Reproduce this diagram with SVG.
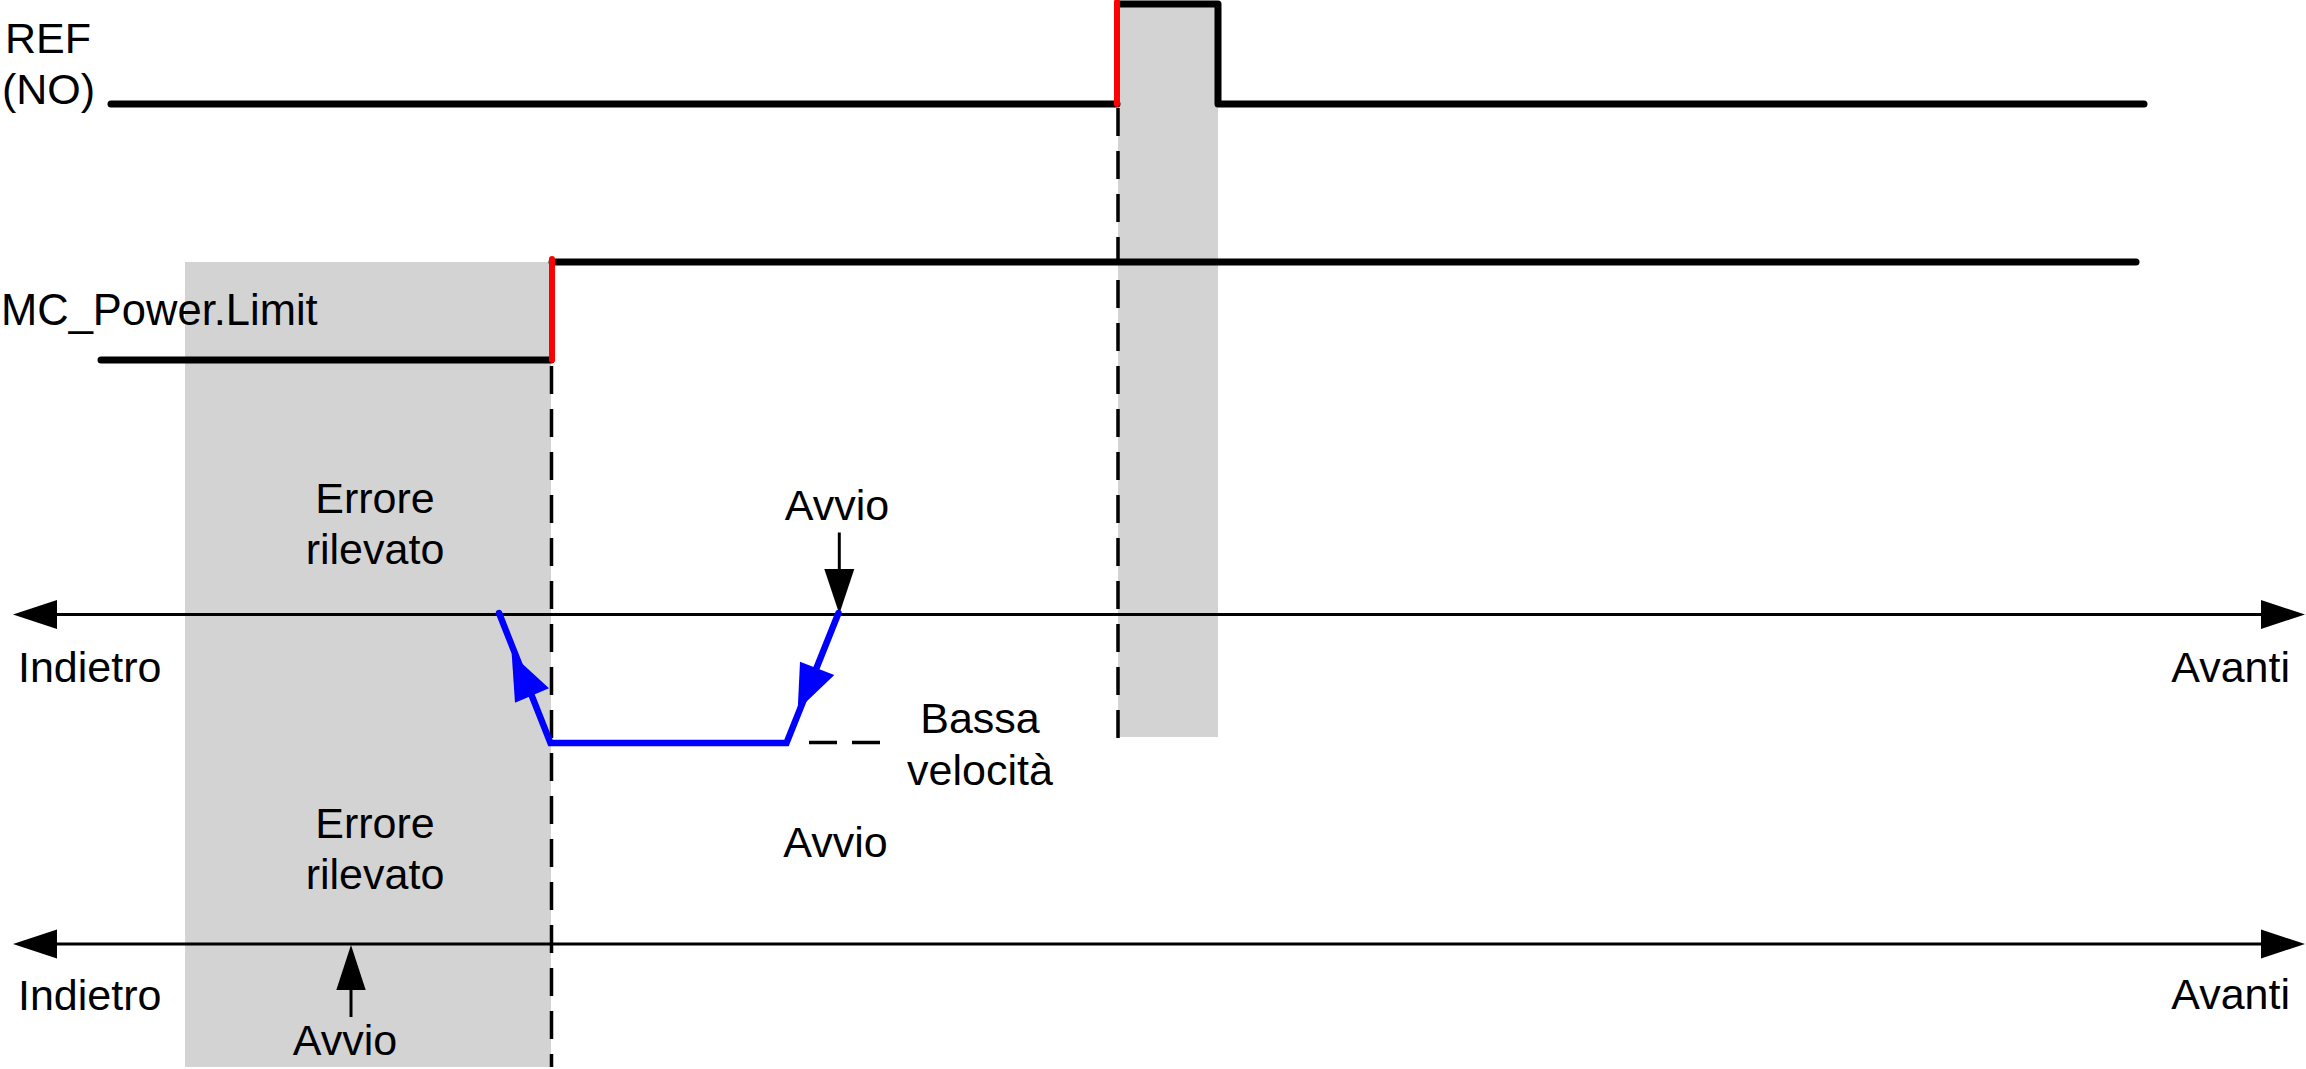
<svg xmlns="http://www.w3.org/2000/svg" width="2306" height="1069" viewBox="0 0 2306 1069">
<defs>
<style>
text{font-family:"Liberation Sans",Arial,sans-serif;font-size:43px;fill:#000}
.mid{text-anchor:middle}
.end{text-anchor:end}
.zone{fill:#D3D3D3}
.sig{fill:none;stroke:#000;stroke-width:7;stroke-linecap:round;stroke-linejoin:round}
.edge{fill:none;stroke:#FF0000;stroke-width:6;stroke-linecap:round}
.dash{fill:none;stroke:#000;stroke-width:3.5;stroke-dasharray:28 15}
.axis{fill:none;stroke:#000;stroke-width:3.2}
.thin{fill:none;stroke:#000;stroke-width:3}
.head{fill:#000}
.move{fill:none;stroke:#0000FF;stroke-width:6.5;stroke-linecap:round;stroke-linejoin:miter}
.bhead{fill:#0000FF}
</style>
</defs>
<rect width="2306" height="1069" fill="#FFFFFF"/>
<g id="zones">
<rect id="zone-error" class="zone" x="185" y="262" width="366" height="805"/>
<rect id="zone-ref" class="zone" x="1118" y="7" width="100" height="730"/>
</g>
<g id="signal-ref">
<path class="sig" d="M111,104 H1117"/>
<path class="sig" d="M1118,4 H1218 V104 H2144"/>
<path class="edge" d="M1117,104 V2"/>
<text x="5" y="53">REF</text>
<text x="2" y="104">(NO)</text>
</g>
<g id="signal-limit">
<path class="sig" d="M101,360 H551"/>
<path class="sig" d="M552,262 H2136"/>
<path class="edge" d="M552,360 V259"/>
<text x="1" y="325" style="font-size:43.5px">MC_Power.Limit</text>
</g>
<g id="axis-top">
<path class="axis" d="M50,614.5 H2268"/>
<polygon class="head" points="13,614.5 57,600 57,629"/>
<polygon class="head" points="2305,614.5 2261,600 2261,629"/>
<text x="18" y="682">Indietro</text>
<text class="end" x="2290" y="682">Avanti</text>
</g>
<g id="axis-bottom">
<path class="axis" d="M50,944 H2268"/>
<polygon class="head" points="13,944 57,929.5 57,958.5"/>
<polygon class="head" points="2305,944 2261,929.5 2261,958.5"/>
<text x="18" y="1010">Indietro</text>
<text class="end" x="2290" y="1009">Avanti</text>
</g>
<g id="label-error-top">
<text class="mid" x="375" y="513">Errore</text>
<text class="mid" x="375" y="564">rilevato</text>
</g>
<g id="label-error-bottom">
<text class="mid" x="375" y="838">Errore</text>
<text class="mid" x="375" y="889">rilevato</text>
</g>
<g id="label-start-top">
<text class="mid" x="837" y="520">Avvio</text>
</g>
<g id="label-low-speed">
<text class="mid" x="980" y="733">Bassa</text>
<text class="mid" x="980" y="785">velocità</text>
</g>
<g id="label-start-mid">
<text class="mid" x="835.5" y="857">Avvio</text>
</g>
<g id="label-start-bottom">
<text class="mid" x="345" y="1055">Avvio</text>
</g>
<g id="connectors">
<path class="dash" d="M551.5,366 V1067"/>
<path class="dash" d="M1118,108 V742"/>
<path class="dash" d="M809,742.5 H883"/>
<path class="thin" d="M839.3,532.5 V572"/>
<polygon class="head" points="839.3,614 824.3,569 854.3,569"/>
<path class="thin" d="M351,1017 V986"/>
<polygon class="head" points="351,945 336.3,990 365.7,990"/>
<path class="move" d="M499,613 L550.5,743 H786.5 L838.5,613"/>
<polygon class="bhead" points="511.7,654 515,702.7 549,688.3"/>
<polygon class="bhead" points="797.7,710 800,661.7 834.3,675"/>
</g>
</svg>
